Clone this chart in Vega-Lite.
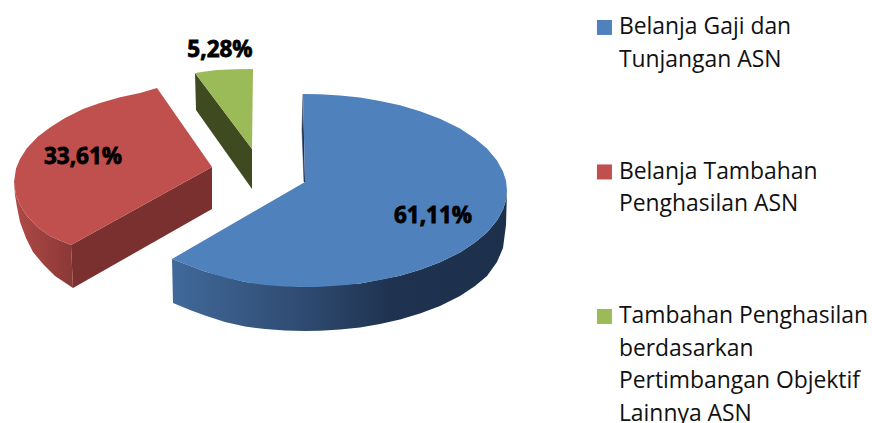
{
"$schema":"https://vega.github.io/schema/vega-lite/v6.json",
"width":872,"height":423,"padding":0,"autosize":{"type":"none"},
"background":"white",
"config":{"view":{"stroke":null}},
"datasets":{
"top":[
{"piece":"Belanja Gaji dan Tunjangan ASN","i":0,"x":303,"y":94},{"piece":"Belanja Gaji dan Tunjangan ASN","i":1,"x":320,"y":94.3},{"piece":"Belanja Gaji dan Tunjangan ASN","i":2,"x":340,"y":95.5},{"piece":"Belanja Gaji dan Tunjangan ASN","i":3,"x":360,"y":97.6},{"piece":"Belanja Gaji dan Tunjangan ASN","i":4,"x":380,"y":100.9},{"piece":"Belanja Gaji dan Tunjangan ASN","i":5,"x":400,"y":105.3},{"piece":"Belanja Gaji dan Tunjangan ASN","i":6,"x":420,"y":111.2},{"piece":"Belanja Gaji dan Tunjangan ASN","i":7,"x":440,"y":118.7},{"piece":"Belanja Gaji dan Tunjangan ASN","i":8,"x":460,"y":128.6},{"piece":"Belanja Gaji dan Tunjangan ASN","i":9,"x":475,"y":138.4},{"piece":"Belanja Gaji dan Tunjangan ASN","i":10,"x":487,"y":148.6},{"piece":"Belanja Gaji dan Tunjangan ASN","i":11,"x":497,"y":160.5},{"piece":"Belanja Gaji dan Tunjangan ASN","i":12,"x":503,"y":171.4},{"piece":"Belanja Gaji dan Tunjangan ASN","i":13,"x":506,"y":180.8},{"piece":"Belanja Gaji dan Tunjangan ASN","i":14,"x":507,"y":190.5},{"piece":"Belanja Gaji dan Tunjangan ASN","i":15,"x":506,"y":200.2},{"piece":"Belanja Gaji dan Tunjangan ASN","i":16,"x":503,"y":209.6},{"piece":"Belanja Gaji dan Tunjangan ASN","i":17,"x":497,"y":220.5},{"piece":"Belanja Gaji dan Tunjangan ASN","i":18,"x":487,"y":232.4},{"piece":"Belanja Gaji dan Tunjangan ASN","i":19,"x":475,"y":242.6},{"piece":"Belanja Gaji dan Tunjangan ASN","i":20,"x":460,"y":252.4},{"piece":"Belanja Gaji dan Tunjangan ASN","i":21,"x":440,"y":262.3},{"piece":"Belanja Gaji dan Tunjangan ASN","i":22,"x":420,"y":269.8},{"piece":"Belanja Gaji dan Tunjangan ASN","i":23,"x":400,"y":275.7},{"piece":"Belanja Gaji dan Tunjangan ASN","i":24,"x":380,"y":280.1},{"piece":"Belanja Gaji dan Tunjangan ASN","i":25,"x":360,"y":283.4},{"piece":"Belanja Gaji dan Tunjangan ASN","i":26,"x":340,"y":285.5},{"piece":"Belanja Gaji dan Tunjangan ASN","i":27,"x":320,"y":286.7},{"piece":"Belanja Gaji dan Tunjangan ASN","i":28,"x":305,"y":287},{"piece":"Belanja Gaji dan Tunjangan ASN","i":29,"x":285,"y":286.5},{"piece":"Belanja Gaji dan Tunjangan ASN","i":30,"x":265,"y":285.1},{"piece":"Belanja Gaji dan Tunjangan ASN","i":31,"x":245,"y":282},{"piece":"Belanja Gaji dan Tunjangan ASN","i":32,"x":225,"y":277.5},{"piece":"Belanja Gaji dan Tunjangan ASN","i":33,"x":205,"y":271.5},{"piece":"Belanja Gaji dan Tunjangan ASN","i":34,"x":190,"y":266},{"piece":"Belanja Gaji dan Tunjangan ASN","i":35,"x":172,"y":259},{"piece":"Belanja Gaji dan Tunjangan ASN","i":36,"x":305,"y":182},
{"piece":"Belanja Tambahan Penghasilan ASN","i":0,"x":157,"y":88},{"piece":"Belanja Tambahan Penghasilan ASN","i":1,"x":140,"y":93},{"piece":"Belanja Tambahan Penghasilan ASN","i":2,"x":120,"y":97.3},{"piece":"Belanja Tambahan Penghasilan ASN","i":3,"x":100,"y":103},{"piece":"Belanja Tambahan Penghasilan ASN","i":4,"x":83,"y":109},{"piece":"Belanja Tambahan Penghasilan ASN","i":5,"x":65,"y":118},{"piece":"Belanja Tambahan Penghasilan ASN","i":6,"x":50,"y":127.5},{"piece":"Belanja Tambahan Penghasilan ASN","i":7,"x":38,"y":136.4},{"piece":"Belanja Tambahan Penghasilan ASN","i":8,"x":27,"y":148},{"piece":"Belanja Tambahan Penghasilan ASN","i":9,"x":20,"y":159},{"piece":"Belanja Tambahan Penghasilan ASN","i":10,"x":16,"y":168.5},{"piece":"Belanja Tambahan Penghasilan ASN","i":11,"x":14,"y":182},{"piece":"Belanja Tambahan Penghasilan ASN","i":12,"x":16,"y":195.5},{"piece":"Belanja Tambahan Penghasilan ASN","i":13,"x":20,"y":205},{"piece":"Belanja Tambahan Penghasilan ASN","i":14,"x":27,"y":216},{"piece":"Belanja Tambahan Penghasilan ASN","i":15,"x":38,"y":227.6},{"piece":"Belanja Tambahan Penghasilan ASN","i":16,"x":50,"y":236},{"piece":"Belanja Tambahan Penghasilan ASN","i":17,"x":60,"y":240.5},{"piece":"Belanja Tambahan Penghasilan ASN","i":18,"x":71,"y":245},{"piece":"Belanja Tambahan Penghasilan ASN","i":19,"x":212,"y":167},
{"piece":"Tambahan Penghasilan berdasarkan Pertimbangan Objektif Lainnya ASN","i":0,"x":195,"y":73},{"piece":"Tambahan Penghasilan berdasarkan Pertimbangan Objektif Lainnya ASN","i":1,"x":205,"y":71.5},{"piece":"Tambahan Penghasilan berdasarkan Pertimbangan Objektif Lainnya ASN","i":2,"x":217,"y":70},{"piece":"Tambahan Penghasilan berdasarkan Pertimbangan Objektif Lainnya ASN","i":3,"x":235,"y":69.3},{"piece":"Tambahan Penghasilan berdasarkan Pertimbangan Objektif Lainnya ASN","i":4,"x":253,"y":69},{"piece":"Tambahan Penghasilan berdasarkan Pertimbangan Objektif Lainnya ASN","i":5,"x":252,"y":149}
],
"blueSide":[
{"i":0,"x":507,"y":190.5},{"i":1,"x":506,"y":200.2},{"i":2,"x":503,"y":209.6},{"i":3,"x":497,"y":220.5},{"i":4,"x":487,"y":232.4},{"i":5,"x":475,"y":242.6},{"i":6,"x":460,"y":252.4},{"i":7,"x":440,"y":262.3},{"i":8,"x":420,"y":269.8},{"i":9,"x":400,"y":275.7},{"i":10,"x":360,"y":283.4},{"i":11,"x":305,"y":287},{"i":12,"x":245,"y":282},{"i":13,"x":205,"y":271.5},{"i":14,"x":172,"y":259},
{"i":15,"x":173,"y":303},{"i":16,"x":190,"y":310},{"i":17,"x":205,"y":315.5},{"i":18,"x":225,"y":322},{"i":19,"x":245,"y":326.5},{"i":20,"x":265,"y":329},{"i":21,"x":285,"y":330.5},{"i":22,"x":305,"y":331},{"i":23,"x":320,"y":330.7},{"i":24,"x":340,"y":329.5},{"i":25,"x":360,"y":327.5},{"i":26,"x":380,"y":324},{"i":27,"x":400,"y":319.5},{"i":28,"x":420,"y":313.5},{"i":29,"x":440,"y":306},{"i":30,"x":460,"y":296},{"i":31,"x":475,"y":286},{"i":32,"x":487,"y":276},{"i":33,"x":497,"y":262},{"i":34,"x":503,"y":248},{"i":35,"x":506,"y":225}
],
"blueInner":[{"i":0,"x":303,"y":94},{"i":1,"x":302,"y":130},{"i":2,"x":304,"y":182},{"i":3,"x":305,"y":182}],
"redOuter":[
{"i":0,"x":14,"y":182},{"i":1,"x":16,"y":195.5},{"i":2,"x":20,"y":205},{"i":3,"x":27,"y":216},{"i":4,"x":38,"y":227.6},{"i":5,"x":50,"y":236},{"i":6,"x":60,"y":240.5},{"i":7,"x":71,"y":245},{"i":8,"x":73,"y":288},{"i":9,"x":55,"y":276},{"i":10,"x":43,"y":264},{"i":11,"x":33,"y":252},{"i":12,"x":26,"y":238},{"i":13,"x":20,"y":222},{"i":14,"x":17,"y":207},{"i":15,"x":15,"y":195}
],
"redInner":[{"i":0,"x":71,"y":245},{"i":1,"x":212,"y":167},{"i":2,"x":212,"y":209},{"i":3,"x":73,"y":288}],
"greenSide":[{"i":0,"x":195,"y":73},{"i":1,"x":252,"y":149},{"i":2,"x":252,"y":189},{"i":3,"x":196,"y":110}],
"labels":[
{"label":"61,11%","share":61.11,"x":433,"y":216},
{"label":"33,61%","share":33.61,"x":83,"y":157},
{"label":"5,28%","share":5.28,"x":220,"y":50}
]
},
"encoding":{
"x":{"field":"x","type":"quantitative","scale":{"domain":[0,872],"nice":false,"zero":false},"axis":null},
"y":{"field":"y","type":"quantitative","scale":{"domain":[423,0],"nice":false,"zero":false},"axis":null},
"order":{"field":"i","type":"quantitative"}
},
"layer":[
{"data":{"name":"redOuter"},"mark":{"type":"line","fill":{"gradient":"linear","x1":0,"y1":0,"x2":1,"y2":0,"stops":[{"offset":0,"color":"#B04A47"},{"offset":1,"color":"#8A3836"}]},"stroke":null}},
{"data":{"name":"redInner"},"mark":{"type":"line","fill":"#7A302E","stroke":null}},
{"data":{"name":"greenSide"},"mark":{"type":"line","fill":"#3F4A20","stroke":null}},
{"data":{"name":"blueSide"},"mark":{"type":"line","fill":{"gradient":"linear","x1":0,"y1":0,"x2":1,"y2":0,"stops":[{"offset":0,"color":"#41699A"},{"offset":0.4,"color":"#2E4A70"},{"offset":0.65,"color":"#1F3350"},{"offset":1,"color":"#1C2F4B"}]},"stroke":null}},
{"data":{"name":"blueInner"},"mark":{"type":"line","fill":"#1F3350","stroke":"#1F3350","strokeWidth":0.5}},
{"data":{"name":"top"},"mark":{"type":"line","filled":true,"strokeWidth":0},
"encoding":{"color":{"field":"piece","type":"nominal",
"scale":{"domain":["Belanja Gaji dan Tunjangan ASN","Belanja Tambahan Penghasilan ASN","Tambahan Penghasilan berdasarkan Pertimbangan Objektif Lainnya ASN"],"range":["#4F81BD","#C0504D","#9BBB59"]},
"legend":{"title":null,"orient":"none","legendX":593,"legendY":16,"gridAlign":"all","rowPadding":23.5,"symbolType":"square","symbolSize":225,"symbolStrokeWidth":0,"symbolOffset":0,"labelOffset":3,"labelFont":"Open Sans","labelFontSize":22.9,"labelColor":"#111111","labelLimit":300,"labelBaseline":"middle",
"encoding":{"labels":{"lineHeight":{"value":32.5}}},
"labelExpr":"datum.label == 'Belanja Gaji dan Tunjangan ASN' ? ['Belanja Gaji dan','Tunjangan ASN'] : datum.label == 'Belanja Tambahan Penghasilan ASN' ? ['Belanja Tambahan','Penghasilan ASN'] : ['Tambahan Penghasilan','berdasarkan','Pertimbangan Objektif','Lainnya ASN']"}}}},
{"data":{"name":"labels"},"mark":{"type":"text","font":"Open Sans","fontWeight":"bold","fontSize":22.5,"color":"#000000","stroke":"#000000","strokeWidth":0.8,"baseline":"middle","align":"center"},
"encoding":{"text":{"field":"label","type":"nominal"}}}
]
}
